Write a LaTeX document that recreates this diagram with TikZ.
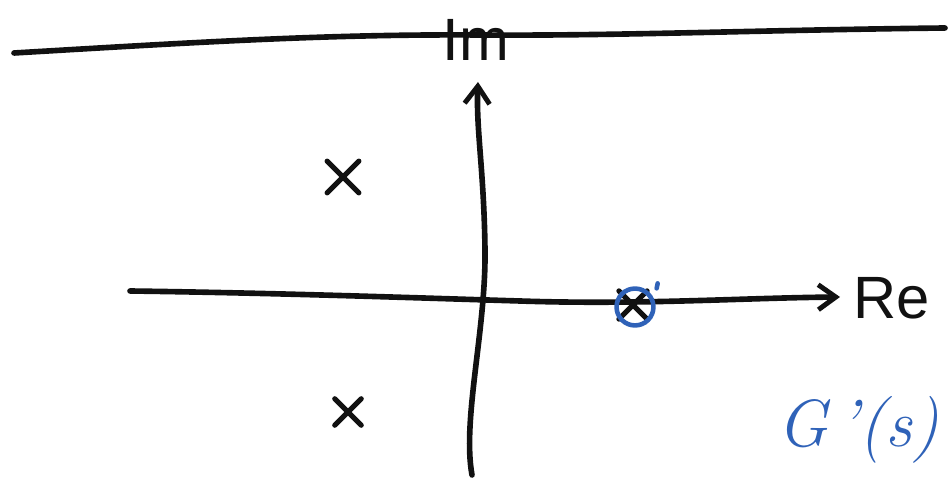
\documentclass[tikz,border=0pt]{standalone}
\usepackage{fontspec}
\setsansfont{Liberation Sans}
\usetikzlibrary{arrows.meta,shapes.misc}
\definecolor{ink}{HTML}{111111}
\definecolor{pen}{HTML}{2F62B8}
\tikzset{stroke/.style={draw=ink,line width=3.2pt,line cap=round,line join=round},axis/.style={stroke,-{Straight Barb[length=3.5mm,width=5mm,line width=2.8pt]}},pole/.style={cross out,draw=ink,line width=3pt,line cap=round,inner sep=0pt},lab/.style={font=\sffamily\fontsize{34}{34}\selectfont,text=ink,inner sep=0pt}}

\begin{document}
\begin{tikzpicture}[x=0.02cm,y=-0.02cm]
\useasboundingbox (0,0) rectangle (951,482);
\coordinate (tl) at (14,53);
\coordinate (tr) at (945,28);
\coordinate (vb) at (472,475);
\coordinate (vt) at (478,82);
\coordinate (hl) at (130,291);
\coordinate (hr) at (840,297);
\draw[stroke] (tl) .. controls (200,42) and (330,34) .. (480,35) .. controls (620,36) and (760,30) .. (tr);
\node[lab] (im) at (476,40) {Im};
\draw[axis] (vb) .. controls (462,420) and (486,330) .. (485,250) .. controls (484,170) and (476,130) .. (vt);
\draw[axis] (hl) .. controls (280,293) and (420,298) .. (520,301) .. controls (640,305) and (740,298) .. (hr);
\node[lab,anchor=west] (re) at (853,298) {Re};
\node[pole,minimum size=15pt] (p1) at (343,177) {};
\node[pole,minimum size=12pt] (p2) at (348,412) {};
\node[pole,minimum size=13pt] (z) at (633,305) {};
\node[circle,draw=pen,line width=2.6pt,minimum size=21pt,inner sep=0pt] (zc) at (635,307) {};
\draw[pen,line width=2.6pt,line cap=round] (zc.north east) ++(7,-4) -- ++(1,-5);
\node[font=\itshape\fontsize{38}{38}\selectfont,text=pen,inner sep=0pt] (g) at (858,430) {G\,'(s)};
\end{tikzpicture}
\end{document}
